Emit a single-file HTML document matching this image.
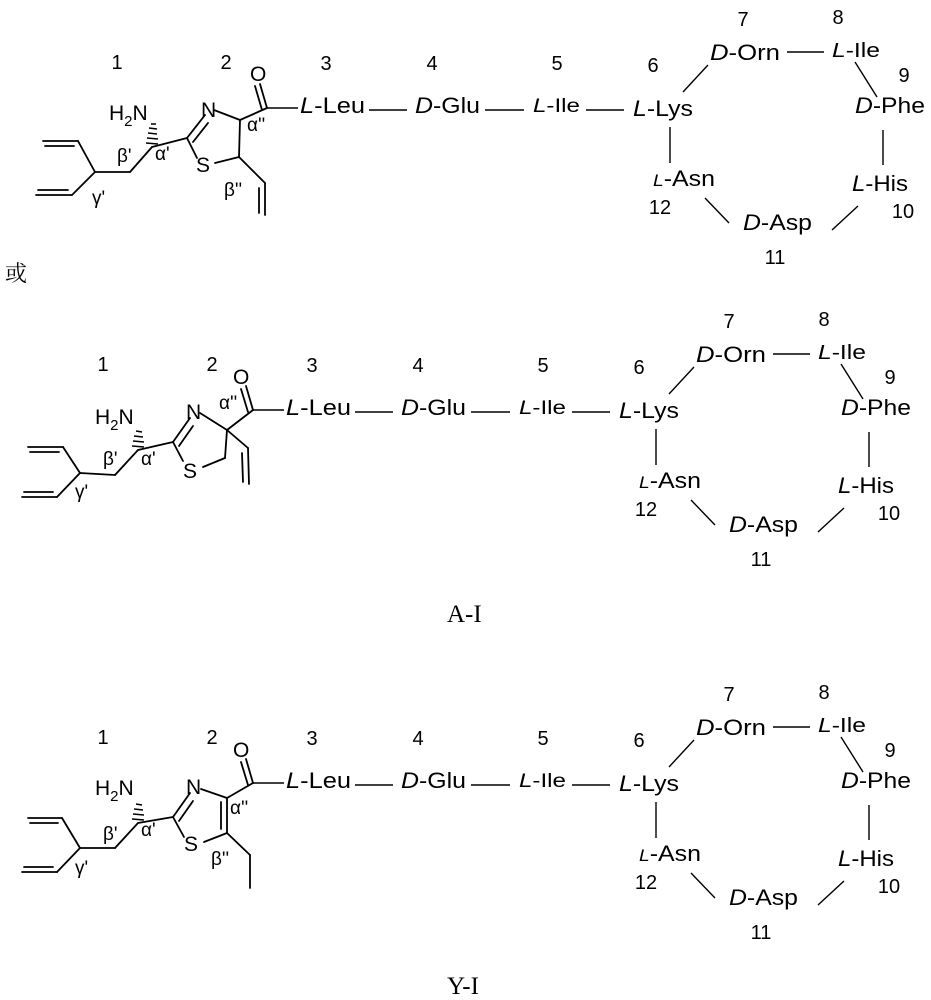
<!DOCTYPE html>
<html><head><meta charset="utf-8"><style>
html,body{margin:0;padding:0;background:#fff;}
svg{display:block;}
text{font-family:"Liberation Sans",Arial,sans-serif;fill:#000;}
.lab{font-size:22px;}
.num{font-size:20px;}
.gr{font-size:19px;font-family:"Liberation Sans",sans-serif;}
.at{font-size:21px;}
.i{font-style:italic;}
</style></head><body>
<svg width="931" height="1000" viewBox="0 0 931 1000" xmlns="http://www.w3.org/2000/svg">
<defs>
<g id="pep">
  <g class="num" text-anchor="middle">
    <text x="326" y="70">3</text><text x="432" y="70">4</text><text x="557" y="70">5</text>
    <text x="653" y="72">6</text><text x="743" y="26">7</text><text x="838" y="24">8</text>
    <text x="904" y="82">9</text><text x="903" y="218">10</text><text x="775" y="264">11</text>
    <text x="660" y="214">12</text>
  </g>
  <g class="lab">
    <text x="300" y="113" textLength="65" lengthAdjust="spacingAndGlyphs"><tspan class="i">L</tspan>-Leu</text>
    <text x="415" y="113" textLength="65" lengthAdjust="spacingAndGlyphs"><tspan class="i">D</tspan>-Glu</text>
    <text x="533" y="112" textLength="47" lengthAdjust="spacingAndGlyphs" style="font-size:19px"><tspan class="i">L</tspan>-Ile</text>
    <text x="633" y="116" textLength="60" lengthAdjust="spacingAndGlyphs"><tspan class="i">L</tspan>-Lys</text>
    <text x="710" y="60" textLength="70" lengthAdjust="spacingAndGlyphs"><tspan class="i">D</tspan>-Orn</text>
    <text x="832" y="57" textLength="48" lengthAdjust="spacingAndGlyphs" style="font-size:20px"><tspan class="i">L</tspan>-Ile</text>
    <text x="855" y="113" textLength="70" lengthAdjust="spacingAndGlyphs"><tspan class="i">D</tspan>-Phe</text>
    <text x="852" y="191" textLength="56" lengthAdjust="spacingAndGlyphs"><tspan class="i">L</tspan>-His</text>
    <text x="653" y="186" textLength="62" lengthAdjust="spacingAndGlyphs"><tspan class="i" style="font-size:17px">L</tspan>-Asn</text>
    <text x="743" y="230" textLength="69" lengthAdjust="spacingAndGlyphs"><tspan class="i">D</tspan>-Asp</text>
  </g>
  <g stroke="#000" stroke-width="1.4" fill="none">
    <line x1="267" y1="108" x2="298" y2="108"/>
    <line x1="369" y1="110" x2="407" y2="110"/>
    <line x1="485" y1="110" x2="524" y2="110"/>
    <line x1="586" y1="110" x2="624" y2="110"/>
    <line x1="787" y1="52" x2="824" y2="52"/>
    <line x1="683" y1="92" x2="708" y2="65"/>
    <line x1="855" y1="62" x2="877" y2="97"/>
    <line x1="883" y1="130" x2="883" y2="165"/>
    <line x1="670" y1="127" x2="670" y2="163"/>
    <line x1="705" y1="198" x2="729" y2="223"/>
    <line x1="832" y1="230" x2="858" y2="206"/>
  </g>
</g>
</defs>

<!-- Block 1 -->
<use href="#pep"/>
<g class="num" text-anchor="middle"><text x="117" y="69">1</text><text x="226" y="69">2</text></g>
<g stroke="#000" stroke-width="1.8" fill="none" stroke-linecap="round">
  <line x1="43" y1="141" x2="78" y2="141"/><line x1="45" y1="146" x2="74" y2="146"/>
  <line x1="78" y1="141" x2="95" y2="172"/>
  <line x1="95" y1="172" x2="72" y2="195"/>
  <line x1="36" y1="195" x2="72" y2="195"/><line x1="38" y1="190" x2="68" y2="190"/>
  <line x1="95" y1="172" x2="130" y2="172"/>
  <line x1="130" y1="172" x2="152" y2="147"/>
  <line x1="152" y1="147" x2="187" y2="138"/>
  <line x1="187" y1="138" x2="205" y2="115"/><line x1="193" y1="142" x2="208" y2="123"/>
  <line x1="214" y1="110" x2="240" y2="120"/>
  <line x1="240" y1="120" x2="239" y2="157"/>
  <line x1="239" y1="157" x2="215" y2="163"/>
  <line x1="197" y1="158" x2="187" y2="138"/>
  <line x1="240" y1="120" x2="267" y2="108"/>
  <line x1="267" y1="108" x2="260" y2="84"/><line x1="262" y1="110" x2="255" y2="86"/>
  <line x1="239" y1="157" x2="265" y2="183"/>
  <line x1="265" y1="183" x2="265" y2="215"/><line x1="259" y1="188" x2="259" y2="213"/>
</g>
<g stroke="#000" stroke-width="1.5">
  <line x1="146" y1="143" x2="158" y2="144"/><line x1="147" y1="138" x2="158" y2="139"/><line x1="148" y1="133" x2="157" y2="134"/><line x1="149" y1="128" x2="157" y2="129"/><line x1="151" y1="124" x2="156" y2="124"/>
</g>
<text class="at" x="109" y="120">H<tspan dy="6" font-size="15">2</tspan><tspan dy="-6">N</tspan></text>
<text class="at" x="201" y="117">N</text>
<text class="at" x="196" y="172">S</text>
<text class="at" x="250" y="81">O</text>
<g class="gr"><text x="117" y="162">β'</text><text x="92" y="204">γ'</text><text x="155" y="160">α'</text><text x="247" y="131">α''</text><text x="224" y="196">β''</text></g>

<text x="5" y="281" style="font-family:'Liberation Serif','Noto Serif CJK SC',serif;font-size:22px">或</text>

<!-- Block 2 -->
<use href="#pep" transform="translate(-14,302)"/>
<g class="num" text-anchor="middle"><text x="103" y="371">1</text><text x="212" y="371">2</text></g>
<g stroke="#000" stroke-width="1.8" fill="none" stroke-linecap="round">
  <line x1="28" y1="447" x2="63" y2="447"/><line x1="30" y1="452" x2="59" y2="452"/>
  <line x1="63" y1="447" x2="80" y2="473"/>
  <line x1="80" y1="473" x2="57" y2="497"/>
  <line x1="22" y1="497" x2="57" y2="497"/><line x1="24" y1="492" x2="53" y2="492"/>
  <line x1="80" y1="473" x2="115" y2="475"/>
  <line x1="115" y1="475" x2="138" y2="450"/>
  <line x1="138" y1="450" x2="173" y2="442"/>
  <line x1="173" y1="442" x2="190" y2="418"/><line x1="179" y1="446" x2="193" y2="426"/>
  <line x1="200" y1="413" x2="227" y2="430"/>
  <line x1="227" y1="430" x2="225" y2="458"/>
  <line x1="225" y1="458" x2="203" y2="467"/>
  <line x1="183" y1="461" x2="173" y2="442"/>
  <line x1="227" y1="430" x2="253" y2="410"/>
  <line x1="253" y1="410" x2="246" y2="386"/><line x1="248" y1="412" x2="241" y2="389"/>
  <line x1="227" y1="430" x2="248" y2="448"/>
  <line x1="248" y1="448" x2="249" y2="484"/><line x1="242" y1="453" x2="243" y2="482"/>
</g>
<g stroke="#000" stroke-width="1.5">
  <line x1="132" y1="446" x2="144" y2="447"/><line x1="133" y1="441" x2="144" y2="442"/><line x1="134" y1="436" x2="143" y2="437"/><line x1="136" y1="431" x2="142" y2="432"/>
</g>
<text class="at" x="95" y="424">H<tspan dy="6" font-size="15">2</tspan><tspan dy="-6">N</tspan></text>
<text class="at" x="186" y="419">N</text>
<text class="at" x="183" y="478">S</text>
<text class="at" x="233" y="384">O</text>
<g class="gr"><text x="103" y="465">β'</text><text x="75" y="498">γ'</text><text x="141" y="465">α'</text><text x="219" y="409">α''</text></g>
<text x="447" y="622" style="font-family:'Liberation Serif',serif;font-size:25px">A-I</text>

<!-- Block 3 -->
<use href="#pep" transform="translate(-14,675)"/>
<g class="num" text-anchor="middle"><text x="103" y="744">1</text><text x="212" y="744">2</text></g>
<g stroke="#000" stroke-width="1.8" fill="none" stroke-linecap="round">
  <line x1="28" y1="818" x2="62" y2="818"/><line x1="30" y1="823" x2="58" y2="823"/>
  <line x1="62" y1="818" x2="80" y2="848"/>
  <line x1="80" y1="848" x2="57" y2="872"/>
  <line x1="22" y1="872" x2="57" y2="872"/><line x1="24" y1="867" x2="53" y2="867"/>
  <line x1="80" y1="848" x2="115" y2="848"/>
  <line x1="115" y1="848" x2="138" y2="823"/>
  <line x1="138" y1="823" x2="173" y2="817"/>
  <line x1="173" y1="817" x2="190" y2="793"/><line x1="179" y1="821" x2="193" y2="801"/>
  <line x1="201" y1="789" x2="227" y2="798"/>
  <line x1="227" y1="798" x2="227" y2="833"/><line x1="221" y1="802" x2="221" y2="829"/>
  <line x1="227" y1="833" x2="204" y2="842"/>
  <line x1="184" y1="837" x2="173" y2="817"/>
  <line x1="227" y1="798" x2="253" y2="783"/>
  <line x1="253" y1="783" x2="246" y2="759"/><line x1="248" y1="785" x2="241" y2="762"/>
  <line x1="227" y1="833" x2="250" y2="855"/>
  <line x1="250" y1="855" x2="250" y2="888"/>
</g>
<g stroke="#000" stroke-width="1.5">
  <line x1="132" y1="819" x2="144" y2="820"/><line x1="133" y1="814" x2="144" y2="815"/><line x1="134" y1="809" x2="143" y2="810"/><line x1="136" y1="804" x2="142" y2="805"/>
</g>
<text class="at" x="95" y="795">H<tspan dy="6" font-size="15">2</tspan><tspan dy="-6">N</tspan></text>
<text class="at" x="186" y="794">N</text>
<text class="at" x="184" y="851">S</text>
<text class="at" x="233" y="757">O</text>
<g class="gr"><text x="103" y="840">β'</text><text x="75" y="874">γ'</text><text x="141" y="836">α'</text><text x="230" y="814">α''</text><text x="211" y="865">β''</text></g>
<text x="447" y="994" style="font-family:'Liberation Serif',serif;font-size:25px">Y-I</text>
</svg>
</body></html>
